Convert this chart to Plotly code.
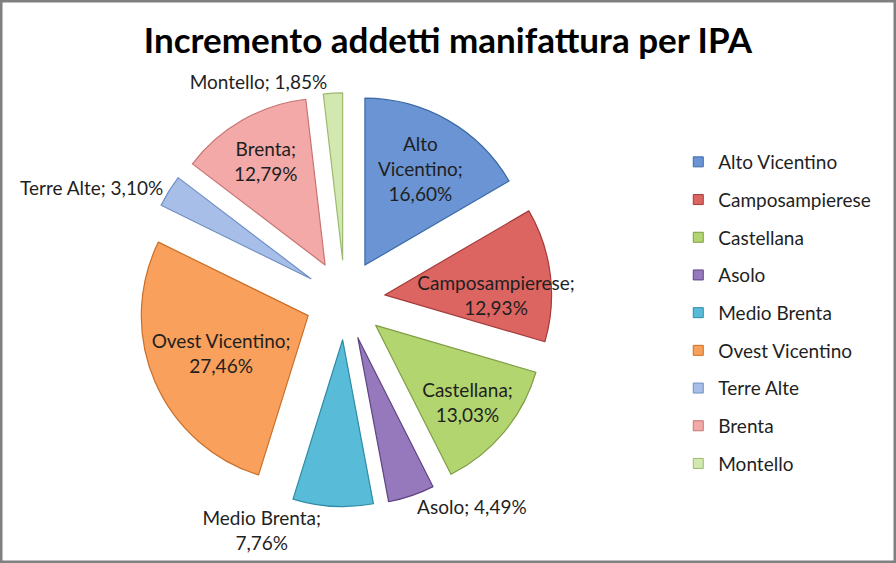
import plotly.graph_objects as go

labels = ["Alto Vicentino", "Camposampierese", "Castellana", "Asolo", "Medio Brenta",
          "Ovest Vicentino", "Terre Alte", "Brenta", "Montello"]
values = [16.60, 12.93, 13.03, 4.49, 7.76, 27.46, 3.10, 12.79, 1.85]
slice_text = ["Alto<br>Vicentino;<br>16,60%", "Camposampierese;<br>12,93%",
              "Castellana;<br>13,03%", "Asolo; 4,49%", "Medio Brenta;<br>7,76%",
              "Ovest Vicentino;<br>27,46%", "Terre Alte; 3,10%", "Brenta;<br>12,79%",
              "Montello; 1,85%"]
text_pos = ["inside", "inside", "inside", "outside", "outside",
            "inside", "outside", "inside", "outside"]
colors = ["#6a94d4", "#dc6562", "#b3d56f", "#9679bd", "#58bcd8",
          "#f8a05c", "#a7bfe8", "#f2a9a7", "#d2e8ae"]
borders = ["#3c6aa8", "#a33c3a", "#7f9c45", "#5e4582", "#2f8ba6",
           "#c96f2a", "#6f8fc4", "#c77472", "#9cba72"]

FONT = "Lato"

fig = go.Figure()
fig.add_trace(go.Pie(
    labels=labels, values=values, text=slice_text, texttemplate="%{text}",
    textposition=text_pos, sort=False, direction="clockwise", rotation=0,
    pull=[0.24] * len(values),
    marker=dict(colors=colors, line=dict(color=borders, width=1.2)),
    textfont=dict(family=FONT, size=19, color="#1f1f1f"),
    insidetextorientation="horizontal",
    showlegend=False, hoverinfo="label+percent",
    domain=dict(x=[0.153, 0.617], y=[0.10, 0.835]),
))
for lab, col, bd in zip(labels, colors, borders):
    fig.add_trace(go.Scatter(
        x=[None], y=[None], mode="markers", name=lab, legendgroup=lab,
        marker=dict(symbol="square", size=10, color=col, line=dict(color=bd, width=1)),
        hoverinfo="skip",
    ))

fig.update_layout(
    width=896, height=563,
    margin=dict(l=0, r=0, t=0, b=0, autoexpand=False),
    paper_bgcolor="white", plot_bgcolor="white",
    title=dict(text="<b>Incremento addetti manifattura per IPA</b>",
               x=0.5, xanchor="center", y=0.928, yanchor="middle",
               font=dict(family=FONT, size=35, color="black")),
    xaxis=dict(visible=False), yaxis=dict(visible=False),
    uniformtext=dict(minsize=19, mode="show"),
    legend=dict(x=0.757, y=0.746, xanchor="left", yanchor="top",
                font=dict(family=FONT, size=19, color="#1f1f1f"),
                tracegroupgap=10, itemwidth=30, bgcolor="rgba(0,0,0,0)"),
    shapes=[dict(type="rect", xref="paper", yref="paper", x0=0, y0=0, x1=1, y1=1,
                 line=dict(color="#808080", width=5))],
)
fig.write_html("out.html")
